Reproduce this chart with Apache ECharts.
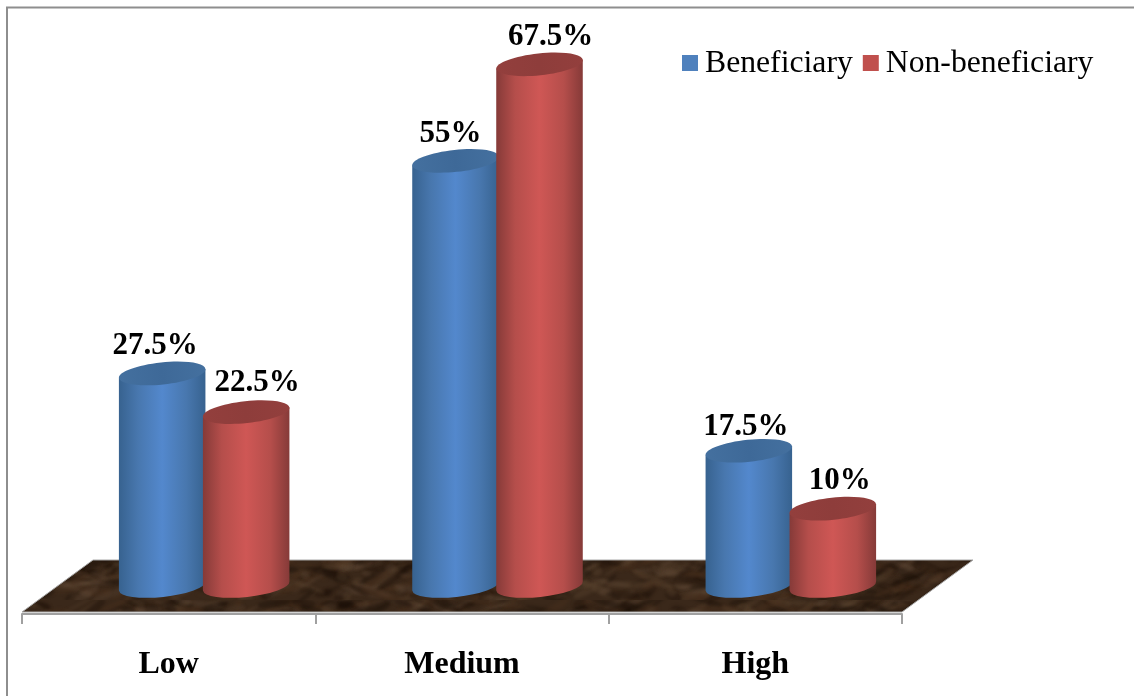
<!DOCTYPE html>
<html>
<head>
<meta charset="utf-8">
<style>html,body{margin:0;padding:0;background:#fff}#chart{width:1134px;height:696px}</style>
<script src="https://cdn.jsdelivr.net/npm/echarts@6/dist/echarts.min.js"></script>
</head>
<body>
<div id="chart"></div>
<script>
const categories = ['Low', 'Medium', 'High'];
const beneficiary = [27.5, 55, 17.5];
const nonBeneficiary = [22.5, 67.5, 10];

const FONT = '"Liberation Serif", "Times New Roman", serif';
const DEPTH_X = 71, DEPTH_Y = 26;      // floor skew and the drop to its front edge
const RX = 43.5, RY = 11, TILT = 6;    // cylinder cap ellipse
const RAD = TILT * Math.PI / 180;

// Mottled brown marble tile for the floor, built from layered soft streaks.
function marbleTile() {
  const w = 1000, h = 120, c = document.createElement('canvas');
  c.width = w; c.height = h;
  const g = c.getContext('2d');
  g.fillStyle = '#3a281a';
  g.fillRect(0, 0, w, h);
  const hash = n => { const s = Math.sin(n * 12.9898) * 43758.5453; return s - Math.floor(s); };
  const tones = ['rgba(24,14,7,0.4)', 'rgba(108,82,60,0.24)', 'rgba(70,46,28,0.5)', 'rgba(28,17,9,0.38)', 'rgba(132,106,84,0.15)'];
  g.filter = 'blur(1.8px)';
  for (let i = 0; i < 1500; i++) {
    const x = hash(i + 1) * w, y = hash(i + 3001) * h;
    const rx = 4 + hash(i + 6001) * 20, ry = 1 + hash(i + 9001) * 3.5;
    g.fillStyle = tones[i % tones.length];
    g.beginPath();
    g.ellipse(x, y, rx, ry, (hash(i + 12001) - 0.6) * 1.2, 0, Math.PI * 2);
    g.fill();
  }
  g.filter = 'none';
  return c;
}
const marble = marbleTile();

function renderFloor(params) {
  const r = params.coordSys;
  const front = r.y + r.height + DEPTH_Y;
  const back = front - 52;
  return {
    type: 'group',
    silent: true,
    children: [{
      type: 'polygon',
      shape: { points: [[r.x, front], [r.x + r.width, front], [r.x + r.width + DEPTH_X, back], [r.x + DEPTH_X, back]] },
      style: { fill: { image: marble, repeat: 'repeat' }, stroke: '#a8a8a8', lineWidth: 1 }
    }]
  };
}

// One cylinder per category: side wall with a shaded gradient, a darker cap and its value label.
function cylinder(side, palette, nudges) {
  return function (params, api) {
    const value = api.value(1);
    const top = api.coord([api.value(0), value]);
    const base = api.coord([api.value(0), 0]);
    const cx = top[0] + 35.5 + side * 42;
    const dx = RX * Math.cos(RAD), dy = RX * Math.sin(RAD);
    const path = 'M' + (cx - dx) + ' ' + (top[1] + dy) +
      'L' + (cx - dx) + ' ' + (base[1] + dy) +
      'A' + RX + ' ' + RY + ' ' + (-TILT) + ' 0 0 ' + (cx + dx) + ' ' + (base[1] - dy) +
      'L' + (cx + dx) + ' ' + (top[1] - dy) + 'Z';
    const nudge = nudges[params.dataIndex];
    return {
      type: 'group',
      silent: true,
      children: [{
        type: 'path',
        shape: { pathData: path },
        style: {
          fill: new echarts.graphic.LinearGradient(0, 0, 1, 0, [
            { offset: 0, color: palette.edge },
            { offset: 0.22, color: palette.mid },
            { offset: 0.5, color: palette.light },
            { offset: 0.78, color: palette.mid },
            { offset: 1, color: palette.edge }
          ])
        }
      }, {
        type: 'ellipse',
        x: cx, y: top[1], rotation: RAD,
        shape: { cx: 0, cy: 0, rx: RX, ry: RY },
        style: {
          fill: new echarts.graphic.LinearGradient(0, 0, 1, 0, [
            { offset: 0, color: palette.capEdge },
            { offset: 0.5, color: palette.cap },
            { offset: 1, color: palette.capEdge }
          ])
        }
      }, {
        type: 'text',
        z2: 10,
        x: cx + nudge[0], y: top[1] + nudge[1],
        style: { text: value + '%', fontFamily: FONT, fontWeight: 'bold', fontSize: 31, fill: '#000', align: 'center', verticalAlign: 'middle' }
      }]
    };
  };
}

const blue = { edge: '#37628f', mid: '#4877ae', light: '#5388cd', cap: '#3e6998', capEdge: '#44709f' };
const red = { edge: '#853a38', mid: '#b54e4b', light: '#cf5755', cap: '#8e3d3b', capEdge: '#933f3d' };

function cylinderSeries(name, values, side, palette, color, nudges) {
  return {
    type: 'custom',
    name: name,
    coordinateSystem: 'cartesian2d',
    clip: false,
    z: 3,
    renderItem: cylinder(side, palette, nudges),
    itemStyle: { color: color },
    encode: { x: 0, y: 1 },
    data: values.map((v, i) => [i, v])
  };
}

const chart = echarts.init(document.getElementById('chart'), null, { renderer: 'canvas' });
chart.setOption({
  animation: false,
  backgroundColor: '#fff',
  grid: { left: 22, right: 232, top: 45, bottom: 110 },
  legend: {
    left: 682, top: 48, padding: 0, itemGap: 10, itemWidth: 16, itemHeight: 18,
    // square swatch riding slightly above the text centre; the trailing sliver extends the icon box
    icon: 'path://M0 0H16V16H0ZM0 18H0.01V17.99H0Z',
    data: ['Beneficiary', 'Non-beneficiary'],
    textStyle: { fontFamily: FONT, fontSize: 31.7, color: '#000', padding: [0, 0, 0, 2] }
  },
  xAxis: {
    type: 'category',
    data: categories,
    offset: 28,
    z: 2,
    axisLine: { show: true, onZero: false, lineStyle: { color: '#a0a0a0', width: 2 } },
    axisTick: { show: true, length: 10, lineStyle: { color: '#a0a0a0', width: 2 } },
    axisLabel: { margin: 35, fontFamily: FONT, fontWeight: 'bold', fontSize: 32, color: '#000' },
    splitLine: { show: false }
  },
  yAxis: { type: 'value', min: 0, max: 70, show: false, splitLine: { show: false } },
  graphic: [
    { type: 'line', silent: true, shape: { x1: 7, y1: 7.5, x2: 7, y2: 696 }, style: { stroke: '#8e8e8e', lineWidth: 2 } },
    { type: 'line', silent: true, shape: { x1: 6, y1: 7.5, x2: 1134, y2: 7.5 }, style: { stroke: '#8e8e8e', lineWidth: 2 } }
  ],
  series: [
    { type: 'custom', coordinateSystem: 'cartesian2d', clip: false, z: 1, silent: true, renderItem: renderFloor, encode: { x: 0, y: 1 }, data: [[0, 0]] },
    cylinderSeries('Beneficiary', beneficiary, -1, blue, '#4f81bd', [[-7, -27], [-5, -27], [-3, -24]]),
    cylinderSeries('Non-beneficiary', nonBeneficiary, 1, red, '#c0504d', [[11, -29], [11, -27], [7, -28]])
  ]
});
</script>
</body>
</html>
